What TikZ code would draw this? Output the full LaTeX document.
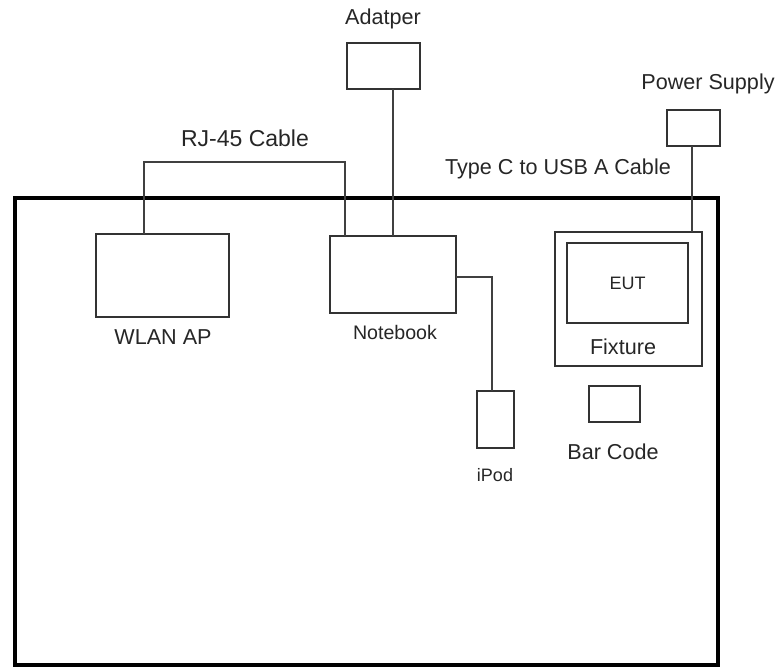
\documentclass[tikz,border=0pt]{standalone}
\usepackage{fontspec}
\setmainfont{Liberation Sans}
\begin{document}
\begin{tikzpicture}[x=1pt,y=-1pt,
  box/.style={draw=black!80,line width=1.9pt,inner sep=0pt,outer sep=0pt,anchor=north west},
  wire/.style={draw=black!75,line width=2pt},
  lbl/.style={text=black!85,font=\fontsize{21.6}{25}\selectfont,inner sep=0pt},
  slbl/.style={text=black!85,font=\fontsize{18}{22}\selectfont,inner sep=0pt}]
\useasboundingbox (0,0) rectangle (781,670);
\node[draw=black,line width=4.5pt,inner sep=0pt,outer sep=0pt,anchor=north west,
  minimum width=703pt,minimum height=467pt] (frame) at (15,198) {};
\node[box,minimum width=133pt,minimum height=83pt] (wlan) at (96,234) {};
\node[box,minimum width=126pt,minimum height=77pt] (nb) at (330,236) {};
\node[box,minimum width=73pt,minimum height=46pt] (adp) at (347,43) {};
\node[box,minimum width=37pt,minimum height=57pt] (ipod) at (477,391) {};
\node[box,minimum width=53pt,minimum height=36pt] (ps) at (667,110) {};
\node[box,line width=1.6pt,minimum width=147pt,minimum height=134pt] (fix) at (555,232) {};
\node[box,minimum width=121pt,minimum height=80pt] (eut) at (567,243) {};
\node[box,minimum width=51pt,minimum height=36pt] (bc) at (589,386) {};
% labels
\node[lbl,font=\fontsize{23}{27}\selectfont] (lrj) at (245,138) {RJ-45 Cable};
\node[lbl] (lwlan) at (163,337) {WLAN AP};
\node[slbl,font=\fontsize{19.6}{23}\selectfont] (lnb) at (395,332) {Notebook};
\node[lbl] (ladp) at (383,19) {Adatper};
\node[lbl] (lps) at (708,84) {Power Supply};
\node[lbl] (ltc) at (558,169) {Type C to USB A Cable};
\node[slbl] (leut) at (eut.center) {EUT};
\node[lbl] (lfix) at (623,347) {Fixture};
\node[slbl] (lipod) at (495,475) {iPod};
\node[lbl] (lbc) at (613,452) {Bar Code};
% wires
\draw[wire] ([xshift=48pt]wlan.north west) |- ([xshift=15pt,yshift=74pt]nb.north west) -- ([xshift=15pt]nb.north west);
\draw[wire] ([xshift=9pt]adp.south) -- ([xshift=9pt]adp.south |- nb.north);
\draw[wire] ([yshift=-2pt]nb.east) -| ([xshift=-4pt]ipod.north);
\draw[wire] ([xshift=-1.5pt]ps.south) -- ([xshift=-1.5pt]ps.south |- fix.north);
\end{tikzpicture}
\end{document}
